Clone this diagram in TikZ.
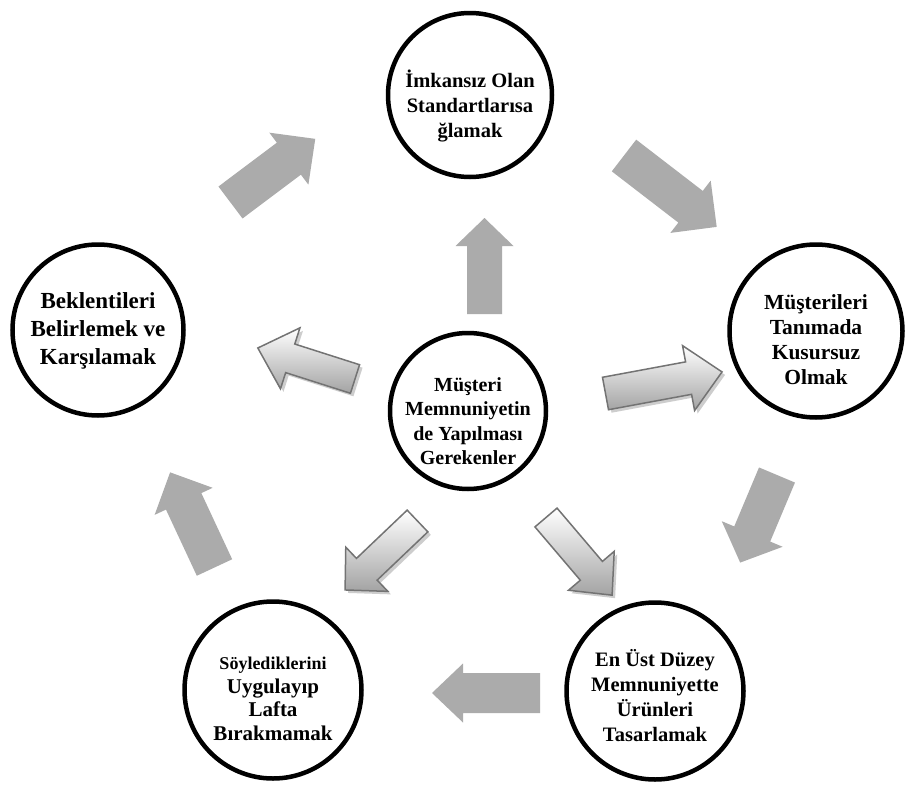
\documentclass[tikz,border=0pt]{standalone}
\usepackage{fontspec}
\setmainfont{Liberation Serif}
\definecolor{outarr}{RGB}{171,171,171}
\definecolor{arredge}{RGB}{115,115,115}
\definecolor{arrshadow}{RGB}{205,205,205}
\newcommand\blkarrow[8]{%
  \begin{scope}[shift={(#2,#3)},rotate=#4]
    \path[#1] (0,-#6) -- ({#5-#8},-#6) -- ({#5-#8},-#7) -- (#5,0) -- ({#5-#8},#7) -- ({#5-#8},#6) -- (0,#6) -- cycle;
  \end{scope}}
\newcommand\innerarrow[7]{%
  \blkarrow{arrshade}{#1+3}{#2+3}{#3}{#4}{#5}{#6}{#7}%
  \blkarrow{arrinner}{#1}{#2}{#3}{#4}{#5}{#6}{#7}}
\tikzset{
  ring/.style={circle, draw=black, line width=4.5pt, fill=white, minimum size=#1, inner sep=0pt},
  lbl/.style={align=center, font=\bfseries, inner sep=0pt},
  arrouter/.style={fill=outarr},
  arrinner/.style={draw=arredge, line width=1.5pt, line join=miter, top color=white, bottom color=gray!72},
  arrshade/.style={fill=arrshadow},
}
\begin{document}
\begin{tikzpicture}[x=1pt,y=-1pt]
\useasboundingbox[fill=white] (0,0) rectangle (922,798);
% circles
\node[ring=164pt] (ctop) at (470,95) {};
\node[ring=171pt] (cleft) at (98,330) {};
\node[ring=173pt] (cright) at (816,331) {};
\node[ring=156pt] (ccenter) at (468,411) {};
\node[ring=177pt] (cbl) at (273,690) {};
\node[ring=177pt] (cbr) at (655,691) {};
% labels
\node[lbl, font=\bfseries\fontsize{20.5}{25}\selectfont] (ttop) at (470,106) {İmkansız Olan\\Standartlarısa\\ğlamak};
\node[lbl, font=\bfseries\fontsize{23}{28}\selectfont] (tleft) at (98,331) {Beklentileri\\Belirlemek ve\\Karşılamak};
\node[lbl, font=\bfseries\fontsize{20}{24.5}\selectfont] (tcenter) at (468,421) {Müşteri\\Memnuniyetin\\de Yapılması\\Gerekenler};
\node[lbl, font=\bfseries\fontsize{21.5}{25}\selectfont] (tright) at (816,340) {Müşterileri\\Tanımada\\Kusursuz\\Olmak};
\node[lbl, font=\bfseries\fontsize{21}{23.5}\selectfont] (tbl) at (273,699) {{\fontsize{18}{23.5}\selectfont Söylediklerini}\\Uygulayıp\\Lafta\\Bırakmamak};
\node[lbl, font=\bfseries\fontsize{20.5}{25}\selectfont] (tbr) at (655,696) {En Üst Düzey\\Memnuniyette\\Ürünleri\\Tasarlamak};
% outer cycle arrows
\blkarrow{arrouter}{230.5}{202.5}{36.9}{106}{20}{32.5}{33}
\blkarrow{arrouter}{624}{155.5}{-37.6}{117}{20}{33}{33}
\blkarrow{arrouter}{777}{475}{-112.8}{95}{19.5}{33}{31}
\blkarrow{arrouter}{540}{693}{180}{108}{20}{29.5}{31}
\blkarrow{arrouter}{214.5}{567.5}{115}{105}{19.5}{32}{32}
% center up arrow (solid)
\blkarrow{arrouter}{484.5}{314}{90}{96}{17.5}{29}{28}
% center gradient arrows
\innerarrow{355}{379}{162.3}{102}{15}{32}{34}
\innerarrow{605.5}{393.5}{10.5}{118.5}{16.5}{33}{34}
\innerarrow{417.5}{521}{-136.4}{100}{15}{30.5}{30}
\innerarrow{546}{517.5}{-49.6}{102}{14.5}{30}{32}
\end{tikzpicture}
\end{document}
